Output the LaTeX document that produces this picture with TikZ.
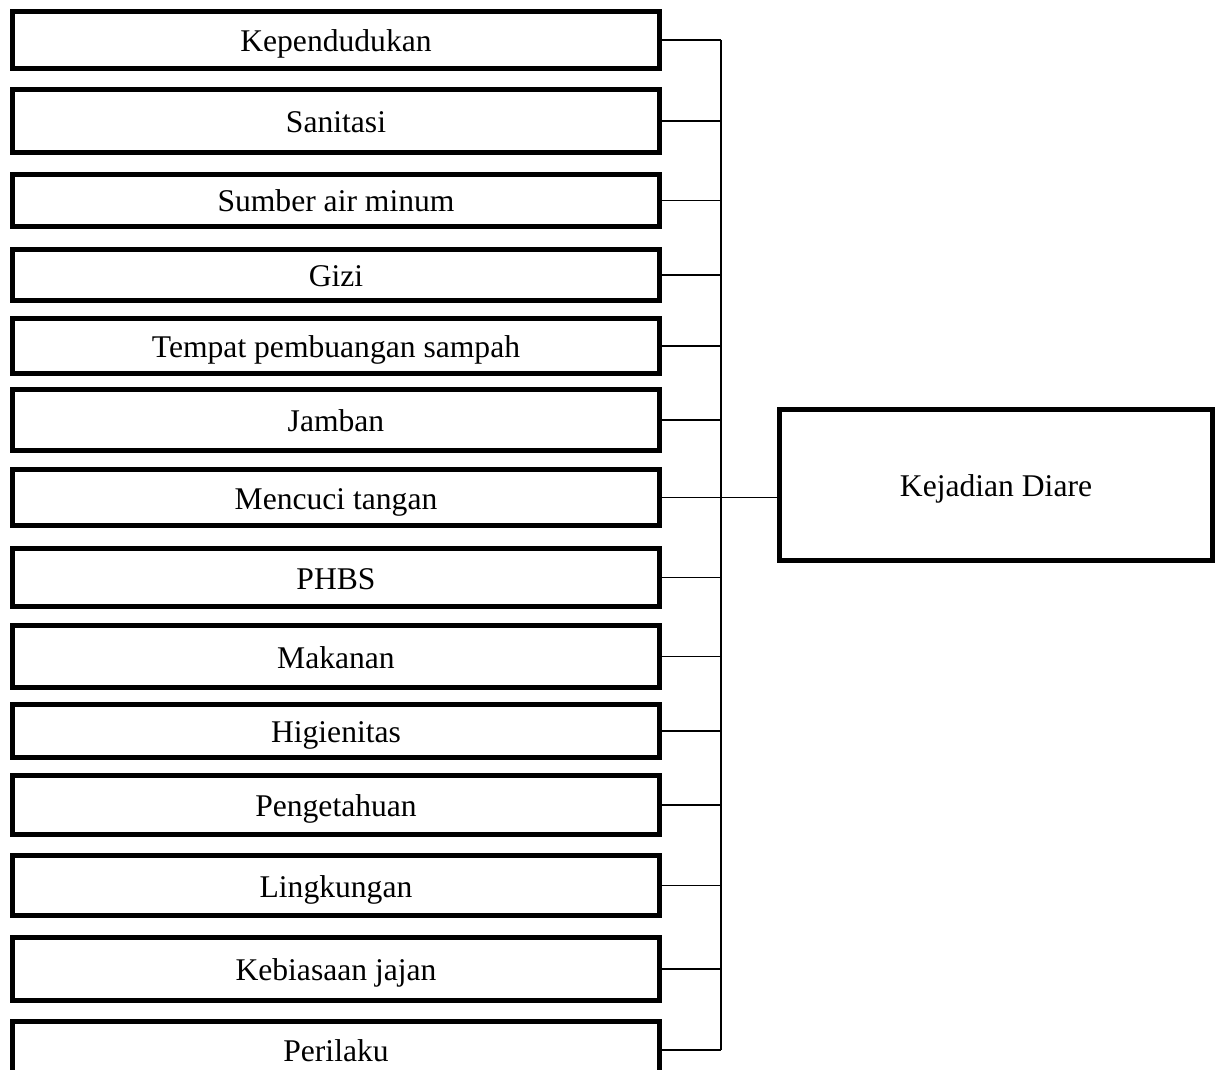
\documentclass[tikz,border=0pt]{standalone}
\usepackage{fontspec}
\setmainfont{Liberation Serif}
\usetikzlibrary{positioning,calc}
\tikzset{
  factor/.style={rectangle, draw=black, line width=2.5pt, minimum width=323.5pt,
                 inner sep=0pt, align=center, text height=14.5pt, text depth=3pt,
                 font=\fontsize{15.8}{18}\selectfont},
  outcome/.style={rectangle, draw=black, line width=2.5pt, minimum width=216.5pt,
                  minimum height=75.5pt, inner sep=0pt, align=center,
                  text height=14.5pt, text depth=3pt,
                  font=\fontsize{15.8}{18}\selectfont},
  link/.style={draw=black, line width=0.75pt}
}

\begin{document}
\begin{tikzpicture}[x=0.5pt, y=-0.5pt]
\useasboundingbox (0,0) rectangle (1222,1070);
% faktor penyebab
\foreach \i/\y/\h/\lbl in {1/40/28.5/Kependudukan, 2/121/31.5/Sanitasi,
    3/200.5/26/Sumber air minum, 4/275/25.5/Gizi,
    5/346/27.5/Tempat pembuangan sampah, 6/420/30.5/Jamban,
    7/497.5/28/Mencuci tangan, 8/577.5/29/PHBS, 9/656.5/31/Makanan,
    10/731/26.5/Higienitas, 11/805/29.5/Pengetahuan, 12/885.5/30/Lingkungan,
    13/969/31.5/Kebiasaan jajan, 14/1050/28.5/Perilaku}
  \node[factor, minimum height=\h pt] (b\i) at (336,\y) {\lbl};
\node[outcome] (diare) at (996,485) {Kejadian Diare};
\coordinate (bus) at (721,0);
% garis penghubung
\draw[link] (b1.east -| bus) -- (b14.east -| bus);
\foreach \i in {1,...,14} \draw[link] (b\i.east) -- (b\i.east -| bus);
\draw[link] (b7.east -| bus) -- (b7.east -| diare.west);
\end{tikzpicture}
\end{document}
